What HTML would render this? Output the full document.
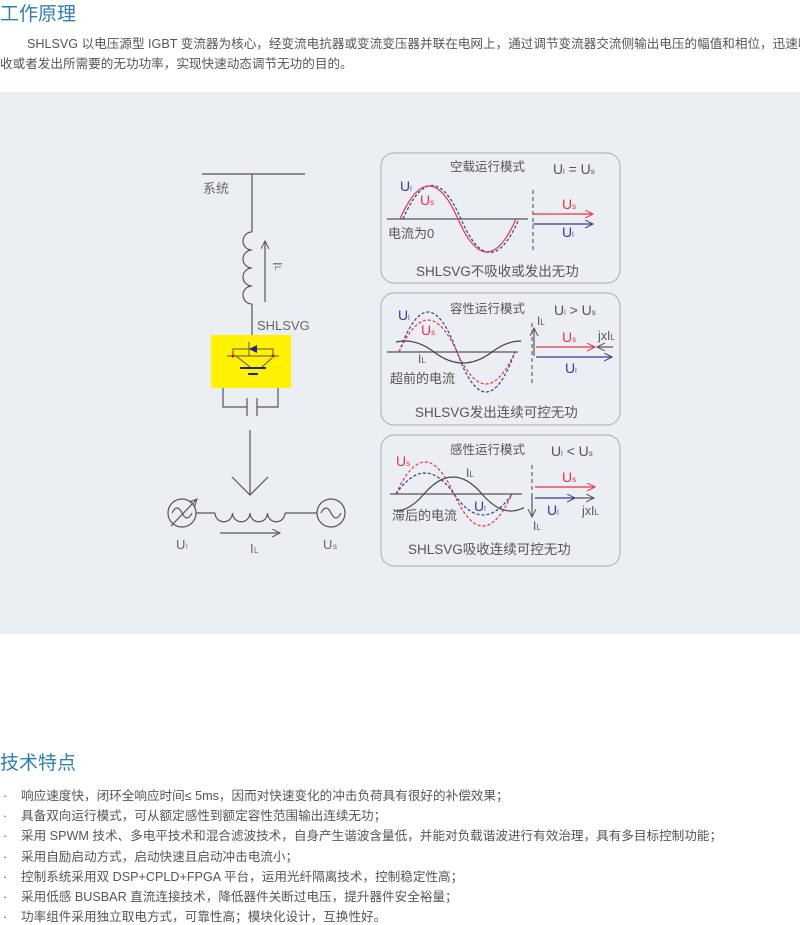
<!DOCTYPE html>
<html><head><meta charset="utf-8"><style>
html,body{margin:0;padding:0;background:#fff;}
body{width:800px;height:923px;position:relative;overflow:hidden;font-family:"Liberation Sans","Noto Sans CJK SC",sans-serif;}
.h{position:absolute;left:0;font-size:19px;color:#2f7fb5;margin:0;font-weight:normal;}
.p{position:absolute;left:0;width:800px;font-size:12.6px;color:#555;white-space:nowrap;overflow:hidden;}
.panel{position:absolute;left:0;top:92px;width:800px;height:542px;background:#ebeff3;}
.li{position:absolute;left:0;font-size:12.6px;color:#555;white-space:nowrap;}
.li span{display:inline-block;width:18px;padding-left:3px;}
svg text{font-family:"Liberation Sans","Noto Sans CJK SC",sans-serif;}
</style></head><body>
<div class="h" style="top:-1px">工作原理</div>
<div class="p" style="top:33px;padding-left:27px;width:773px">SHLSVG 以电压源型 IGBT 变流器为核心，经变流电抗器或变流变压器并联在电网上，通过调节变流器交流侧输出电压的幅值和相位，迅速吸</div>
<div class="p" style="top:53px">收或者发出所需要的无功功率，实现快速动态调节无功的目的。</div>
<div class="panel"></div>
<svg style="position:absolute;left:0;top:0" width="800" height="923" viewBox="0 0 800 923">
<defs>
<marker id="ar" markerWidth="10" markerHeight="10" refX="8" refY="4" orient="auto" markerUnits="userSpaceOnUse"><path d="M0,0 L8,4 L0,8" fill="none" stroke="#555" stroke-width="1"/></marker>
<marker id="arr" markerWidth="10" markerHeight="10" refX="8" refY="4" orient="auto" markerUnits="userSpaceOnUse"><path d="M0,0 L8,4 L0,8" fill="none" stroke="#e8334a" stroke-width="1"/></marker>
<marker id="arb" markerWidth="10" markerHeight="10" refX="8" refY="4" orient="auto" markerUnits="userSpaceOnUse"><path d="M0,0 L8,4 L0,8" fill="none" stroke="#3a3a9a" stroke-width="1"/></marker>
<clipPath id="c2"><rect x="396" y="290" width="125" height="130"/></clipPath>
<clipPath id="c3"><rect x="394" y="440" width="130" height="120"/></clipPath>
</defs>
<g stroke="#555" stroke-width="1.2" fill="none">
<line x1="202" y1="174" x2="305" y2="174"/>
<line x1="252" y1="174" x2="252" y2="232"/>
<path d="M252,232 a9,9 0 0 0 0,18 a9,9 0 0 0 0,18 a9,9 0 0 0 0,18 a9,9 0 0 0 0,18"/>
<line x1="252" y1="304" x2="252" y2="335"/>
<line x1="265" y1="302" x2="265" y2="241" marker-end="url(#ar)"/>
<path d="M223,388 V407 H247 M257,407 H278 V388"/>
<line x1="247" y1="398" x2="247" y2="416"/><line x1="257" y1="398" x2="257" y2="416"/>
<line x1="250" y1="430" x2="250" y2="495"/>
<path d="M232,477 L250,495 L268,477"/>
<circle cx="182" cy="513" r="14"/>
<path d="M172,513 q5,-10 10,0 t10,0"/>
<line x1="171" y1="526" x2="197" y2="499" marker-end="url(#ar)"/>
<line x1="196" y1="513" x2="215" y2="513"/>
<path d="M215,513 a8.75,8.75 0 0 0 17.5,0 a8.75,8.75 0 0 0 17.5,0 a8.75,8.75 0 0 0 17.5,0 a8.75,8.75 0 0 0 17.5,0"/>
<line x1="285" y1="513" x2="317" y2="513"/>
<circle cx="331" cy="513" r="14"/>
<path d="M321,513 q5,-10 10,0 t10,0"/>
<line x1="220" y1="533" x2="280" y2="533" marker-end="url(#ar)"/>
</g>
<rect x="211" y="335" width="80" height="53" fill="#fff200"/>
<g stroke="#555" stroke-width="1" fill="none">
<path d="M233,356 V349 H273 V356"/><line x1="227" y1="356" x2="279" y2="356"/>
<line x1="236" y1="356" x2="250" y2="367"/><line x1="262" y1="367" x2="272" y2="358"/>
<line x1="249" y1="342" x2="249" y2="356"/>
</g>
<path d="M249,349 L257,345 L257,353 Z" fill="#22228a"/>
<line x1="240" y1="368" x2="266" y2="368" stroke="#22228a" stroke-width="2"/>
<line x1="248" y1="374" x2="258" y2="374" stroke="#22228a" stroke-width="2"/>
<circle cx="233" cy="356" r="1.5" fill="#e00"/><circle cx="273" cy="356" r="1.5" fill="#e00"/>
<g font-size="13" fill="#666">
<text x="203" y="193">系统</text>
<text x="257" y="330">SHLSVG</text>
<text x="0" y="0" transform="translate(273,262) rotate(90)">I</text><text x="0" y="0" font-size="8" transform="translate(275,266) rotate(90)">L</text>
<text x="176" y="549">U</text><text x="186" y="549" font-size="7">l</text>
<text x="250" y="553">I</text><text x="254" y="553" font-size="8">L</text>
<text x="323" y="549">U</text><text x="333" y="549" font-size="8">s</text>
</g>
<g fill="none" stroke="#aaa" stroke-width="1">
<rect x="381" y="153" width="239" height="130" rx="13"/>
<rect x="381" y="293" width="239" height="132" rx="13"/>
<rect x="381" y="435" width="239" height="131" rx="13"/>
</g>
<g stroke-width="1.2" fill="none">
<line x1="387" y1="219" x2="528" y2="219" stroke="#555"/>
<path d="M403,219 Q432,152 461,219 T519,219" stroke="#3a3a9a" stroke-dasharray="3,2"/>
<path d="M400,219 Q429,153 458,219 T516,219" stroke="#e8334a"/>
<line x1="533" y1="190" x2="533" y2="250" stroke="#666" stroke-dasharray="4,3"/>
<line x1="533" y1="214" x2="593" y2="214" stroke="#e8334a" marker-end="url(#arr)"/>
<line x1="533" y1="224" x2="593" y2="224" stroke="#3a3a9a" marker-end="url(#arb)"/>
<line x1="387" y1="352" x2="518" y2="352" stroke="#555"/>
<path d="M399,352 Q428,272 457,352 T515,352" stroke="#3a3a9a" stroke-dasharray="3,2"/>
<path d="M399,352 Q428,288 457,352 T515,352" stroke="#e8334a" stroke-dasharray="3,2"/>
<path d="M376,352 Q405,330 434,352 T492,352 T550,352" stroke="#444" clip-path="url(#c2)"/>
<line x1="532" y1="323" x2="532" y2="385" stroke="#666" stroke-dasharray="4,3"/>
<line x1="534" y1="356" x2="534" y2="328" stroke="#555" marker-end="url(#ar)"/>
<line x1="536" y1="347" x2="595" y2="347" stroke="#e8334a" marker-end="url(#arr)"/>
<line x1="613" y1="347" x2="597" y2="347" stroke="#555" marker-end="url(#ar)"/>
<line x1="536" y1="357" x2="612" y2="357" stroke="#3a3a9a" marker-end="url(#arb)"/>
<line x1="390" y1="494" x2="522" y2="494" stroke="#555"/>
<path d="M396,494 Q425,430 454,494 T512,494" stroke="#e8334a" stroke-dasharray="3,2"/>
<path d="M396,494 Q425,452 454,494 T512,494" stroke="#3a3a9a" stroke-dasharray="3,2"/>
<path d="M366,494 Q395,528 424,494 T482,494 T540,494" stroke="#444" clip-path="url(#c3)"/>
<line x1="532" y1="465" x2="532" y2="494" stroke="#666" stroke-dasharray="4,3"/>
<line x1="532" y1="494" x2="532" y2="517" stroke="#555" marker-end="url(#ar)"/>
<line x1="535" y1="487" x2="595" y2="487" stroke="#e8334a" marker-end="url(#arr)"/>
<line x1="535" y1="498" x2="575" y2="498" stroke="#3a3a9a" marker-end="url(#arb)"/>
<line x1="575" y1="498" x2="594" y2="498" stroke="#555" marker-end="url(#ar)"/>
</g>
<g font-size="12.5" fill="#555">
<text x="450" y="171">空载运行模式</text>
<text x="553" y="174" font-size="14">U<tspan font-size="7">l</tspan> = U<tspan font-size="8">s</tspan></text>
<text x="400" y="191" fill="#3a3a9a" font-size="14">U<tspan font-size="7">l</tspan></text>
<text x="420" y="205" fill="#e8334a" font-size="14">U<tspan font-size="8">s</tspan></text>
<text x="388" y="238" font-size="13">电流为0</text>
<text x="562" y="209" fill="#e8334a" font-size="14">U<tspan font-size="8">s</tspan></text>
<text x="562" y="237" fill="#3a3a9a" font-size="14">U<tspan font-size="7">l</tspan></text>
<text x="416" y="276" font-size="13.5">SHLSVG不吸收或发出无功</text>

<text x="450" y="313">容性运行模式</text>
<text x="554" y="315" font-size="14">U<tspan font-size="7">l</tspan> &gt; U<tspan font-size="8">s</tspan></text>
<text x="398" y="320" fill="#3a3a9a" font-size="14">U<tspan font-size="7">l</tspan></text>
<text x="421" y="335" fill="#e8334a" font-size="14">U<tspan font-size="8">s</tspan></text>
<text x="418" y="363" font-size="12">I<tspan font-size="8">L</tspan></text>
<text x="390" y="383" font-size="13">超前的电流</text>
<text x="537" y="325" font-size="12">I<tspan font-size="8">L</tspan></text>
<text x="562" y="342" fill="#e8334a" font-size="14">U<tspan font-size="8">s</tspan></text>
<text x="598" y="340" font-size="12.5">jxI<tspan font-size="8">L</tspan></text>
<text x="565" y="373" fill="#3a3a9a" font-size="14">U<tspan font-size="7">l</tspan></text>
<text x="415" y="417" font-size="13.5">SHLSVG发出连续可控无功</text>

<text x="450" y="454">感性运行模式</text>
<text x="551" y="456" font-size="14">U<tspan font-size="7">l</tspan> &lt; U<tspan font-size="8">s</tspan></text>
<text x="396" y="466" fill="#e8334a" font-size="14">U<tspan font-size="8">s</tspan></text>
<text x="466" y="477" font-size="12">I<tspan font-size="8">L</tspan></text>
<text x="474" y="511" fill="#3a3a9a" font-size="14">U<tspan font-size="7">l</tspan></text>
<text x="392" y="520" font-size="13">滞后的电流</text>
<text x="562" y="482" fill="#e8334a" font-size="14">U<tspan font-size="8">s</tspan></text>
<text x="547" y="515" fill="#3a3a9a" font-size="14">U<tspan font-size="7">l</tspan></text>
<text x="582" y="515" font-size="12.5">jxI<tspan font-size="8">L</tspan></text>
<text x="533" y="530" font-size="12">I<tspan font-size="8">L</tspan></text>
<text x="408" y="554" font-size="13.5">SHLSVG吸收连续可控无功</text>
</g>
</svg>
<div class="h" style="top:748px">技术特点</div>
<div class="li" style="top:785px"><span>·</span>响应速度快，闭环全响应时间≤ 5ms，因而对快速变化的冲击负荷具有很好的补偿效果；</div>
<div class="li" style="top:805px"><span>·</span>具备双向运行模式，可从额定感性到额定容性范围输出连续无功；</div>
<div class="li" style="top:825px"><span>·</span>采用 SPWM 技术、多电平技术和混合滤波技术，自身产生谐波含量低，并能对负载谐波进行有效治理，具有多目标控制功能；</div>
<div class="li" style="top:846px"><span>·</span>采用自励启动方式，启动快速且启动冲击电流小；</div>
<div class="li" style="top:866px"><span>·</span>控制系统采用双 DSP+CPLD+FPGA 平台，运用光纤隔离技术，控制稳定性高；</div>
<div class="li" style="top:886px"><span>·</span>采用低感 BUSBAR 直流连接技术，降低器件关断过电压，提升器件安全裕量；</div>
<div class="li" style="top:906px"><span>·</span>功率组件采用独立取电方式，可靠性高；模块化设计，互换性好。</div>
</body></html>
